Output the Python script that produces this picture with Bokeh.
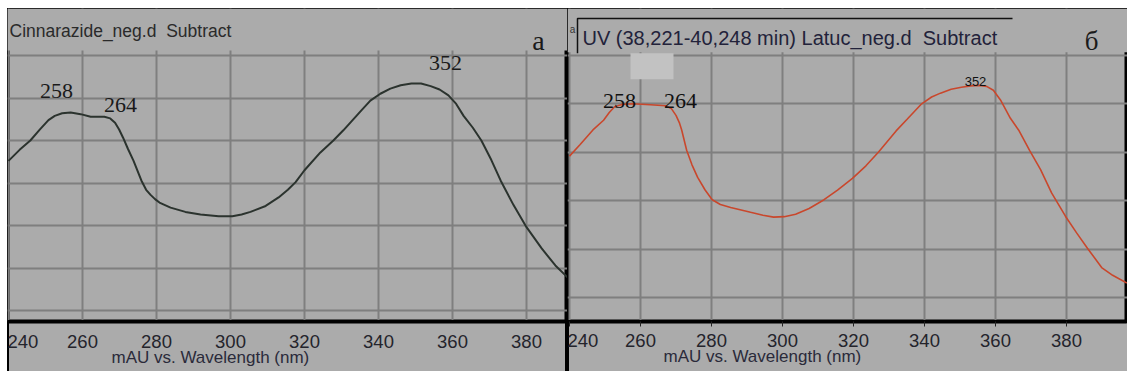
from bokeh.plotting import figure
from bokeh.models import FixedTicker, Label, BoxAnnotation, Title, Range1d
from bokeh.layouts import row
from bokeh.embed import file_html
from bokeh.resources import INLINE

# ---------------- data ----------------
wl_a = [240, 243, 245.9, 248.5, 250.8, 252.5, 254.5, 256.8, 259.5, 262.2, 265.9, 267.5,
        268.8, 269.9, 271.0, 272.3, 273.8, 275.9, 277.2, 278.4, 279.6, 280.8, 283.8, 287.8,
        291.9, 296.8, 300.5, 303.0, 305.4, 309.5, 313.0, 315.5, 317.6, 320.0, 324.3, 327.8,
        330.5, 333.0, 335.5, 337.8, 340.5, 343.2, 346.0, 348.9, 351.5, 354.1, 356.5, 358.9,
        361.0, 363.0, 365.5, 367.8, 370.5, 373.0, 376.5, 380.0, 384.1, 387.8, 391.1]
mau_a = [17.6, 18.9, 20.0, 21.3, 22.4, 22.9, 23.2, 23.3, 23.1, 22.8, 22.8, 22.6,
         22.1, 21.3, 20.3, 19.0, 17.6, 15.3, 14.2, 13.6, 13.1, 12.7, 12.1, 11.6,
         11.3, 11.1, 11.1, 11.3, 11.6, 12.3, 13.3, 14.2, 15.1, 16.5, 18.6, 20.0,
         21.2, 22.4, 23.6, 24.7, 25.5, 26.1, 26.5, 26.7, 26.7, 26.4, 26.0, 25.3,
         24.3, 22.9, 21.5, 20.0, 17.7, 15.3, 12.4, 9.8, 7.3, 5.3, 3.9]

wl_b = [240, 243, 246.6, 249.6, 251.2, 252.7, 255.0, 257.7, 262.8, 267.0, 268.7, 270.0,
        271.0, 271.6, 273.0, 274.5, 276.1, 278.2, 280.2, 282.5, 285.4, 291.0, 294.5, 297.5,
        300.5, 303.7, 307.5, 311.7, 315.5, 319.7, 323.5, 327.0, 332.0, 335.1, 339.2, 342.0,
        344.5, 347.5, 350.4, 353.0, 355.5, 357.5, 359.4, 361.4, 364.2, 366.5, 369.6, 372.7,
        375.8, 379.7, 382.8, 385.9, 389.9, 393.0, 397.0]
mau_b = [14.6, 15.8, 17.3, 18.3, 19.1, 19.7, 19.95, 20.0, 19.9, 19.8, 19.5, 18.8,
         18.0, 17.3, 15.2, 13.7, 12.4, 11.1, 10.1, 9.6, 9.3, 8.8, 8.5, 8.3,
         8.35, 8.6, 9.2, 10.1, 11.1, 12.3, 13.6, 15.0, 17.2, 18.4, 20.0, 20.7,
         21.1, 21.5, 21.7, 21.85, 21.9, 21.8, 21.4, 20.4, 18.5, 17.3, 15.2, 13.2,
         10.8, 8.4, 6.7, 5.1, 3.1, 2.3, 1.5]

wl_ticks = [240, 260, 280, 300, 320, 340, 360, 380, 400]
grid_a = [0, 5, 10, 15, 20, 25, 30]
grid_b = [0, 5, 10, 15, 20, 25]
peak_text = ["258", "264", "352"]
title_a = "Cinnarazide_neg.d \u00a0Subtract"
title_b = "UV (38,221-40,248 min) Latuc_neg.d \u00a0Subtract"
axis_text = "mAU vs. Wavelength (nm)"

# ---------------- styling ----------------
BG = "#ababab"
GRID = "#7f7f7f"
SANS = "Liberation Sans"
SERIF = "Liberation Serif"
TXT = "#24242c"
H = 363


def make_fig(width, xr, yr, bottom, shadow):
    p = figure(width=width, height=H, x_range=Range1d(*xr), y_range=Range1d(*yr),
               output_backend="svg", toolbar_location=None,
               min_border_left=0, min_border_right=0, min_border_top=0,
               min_border_bottom=bottom)
    p.background_fill_color = BG
    p.border_fill_alpha = 0
    p.styles = {"background-color": BG, "box-shadow": shadow}
    p.outline_line_color = "black"
    p.outline_line_width = 4
    p.yaxis.visible = False
    p.ygrid.grid_line_color = GRID
    p.ygrid.grid_line_width = 2
    p.xgrid.grid_line_color = GRID
    p.xgrid.grid_line_width = 2
    p.xaxis.ticker = FixedTicker(ticks=wl_ticks)
    p.xgrid.ticker = FixedTicker(ticks=wl_ticks)
    p.xaxis.major_label_text_font = SANS
    p.xaxis.major_label_text_font_size = "18.5px"
    p.xaxis.major_label_text_color = TXT
    p.xaxis.axis_line_color = "black"
    p.xaxis.axis_line_width = 3
    p.xaxis.minor_tick_line_color = None
    return p


# ---------------- panel a ----------------
# page-pixel -> data helpers, used only to place annotations
def ax(px):
    return 240 + (px - 8) / 3.7


def ay(py):
    return (310 - py) * 5 / 42.5


pa = make_fig(560, (ax(7), ax(567)), (ay(321), ay(8)), 50,
              "inset 2px 0 0 0 #000, inset -2px 0 0 0 #000")
pa.ygrid.ticker = FixedTicker(ticks=grid_a)
pa.xaxis.major_tick_out = 0
pa.xaxis.major_tick_in = 0
pa.xaxis.major_label_standoff = 13

pa.add_layout(BoxAnnotation(bottom=ay(50), fill_color=BG, fill_alpha=1, line_alpha=0, level="glyph"))
pa.line(wl_a, mau_a, line_color="#2b332e", line_width=2)

pa.add_layout(Label(x=ax(9), y=ay(30), text=title_a, text_font=SANS, text_font_size="17.5px",
                    text_color="#2a2a2a", text_baseline="middle", text_align="left"))
for t, (px, py) in zip(peak_text, [(56, 90), (120, 104), (445, 62)]):
    pa.add_layout(Label(x=ax(px), y=ay(py), text=t, text_font=SERIF, text_font_size="22px",
                        text_color="#1a1a1a", text_align="center", text_baseline="middle"))
pa.add_layout(Label(x=ax(538), y=ay(40), text="a", text_font=SERIF, text_font_size="28px",
                    text_color="#1a1a1a", text_align="center", text_baseline="middle"))
pa.add_layout(Title(text=axis_text, align="left", offset=104, standoff=-9,
                    text_font=SANS, text_font_size="17px", text_font_style="normal",
                    text_color="#2a2a3a"), "below")


# ---------------- panel б ----------------
def bx(px):
    return 240 + (px - 569) / 3.55


def by(py):
    return (298 - py) / 9.72


pb = make_fig(560, (bx(567), bx(1127)), (by(322), by(8)), 49,
              "inset 2px 0 0 0 #000")
pb.ygrid.ticker = FixedTicker(ticks=grid_b)
pb.xaxis.major_tick_out = 5
pb.xaxis.major_tick_in = 0
pb.xaxis.major_tick_line_color = "#222"
pb.xaxis.major_label_standoff = 7

pb.add_layout(BoxAnnotation(bottom=by(52), fill_color=BG, fill_alpha=1, line_alpha=0, level="glyph"))
pb.add_layout(BoxAnnotation(left=bx(630), right=bx(673), top=by(53), bottom=by(79),
                            fill_color="#c2c2c2", fill_alpha=1, line_alpha=0, level="glyph"))
pb.line([bx(577), bx(577), bx(1012)], [by(53), by(18), by(18)], line_color="#111",
        line_width=1.5, level="overlay")
pb.line(wl_b, mau_b, line_color="#c9472c", line_width=1.6)

pb.add_layout(Label(x=bx(582), y=by(38), text=title_b, text_font=SANS, text_font_size="20px",
                    text_color="#22223a", text_baseline="middle", text_align="left"))
pb.add_layout(Label(x=bx(572), y=by(29), text="a", text_font=SANS, text_font_size="10px",
                    text_color="#333", text_baseline="middle", text_align="center"))
for t, (px, py), fs, fnt in zip(peak_text, [(619, 101), (680, 101), (975, 81)],
                                ["22px", "22px", "13px"], [SERIF, SERIF, SANS]):
    pb.add_layout(Label(x=bx(px), y=by(py), text=t, text_font=fnt, text_font_size=fs,
                        text_color="#111", text_align="center", text_baseline="middle"))
pb.add_layout(Label(x=bx(1091), y=by(41), text="б", text_font=SERIF, text_font_size="27px",
                    text_color="#1a1a1a", text_align="center", text_baseline="middle"))
pb.add_layout(Title(text=axis_text, align="left", offset=96, standoff=-9,
                    text_font=SANS, text_font_size="17px", text_font_style="normal",
                    text_color="#2a2a3a"), "below")

layout = row(pa, pb, styles={"margin-left": "7px", "margin-top": "8px"})
open("out.html", "w").write(file_html(layout, INLINE))
